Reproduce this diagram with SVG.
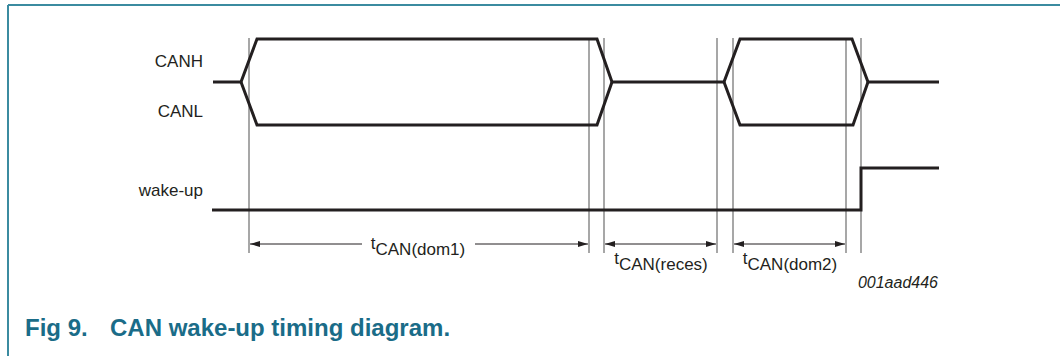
<svg xmlns="http://www.w3.org/2000/svg" width="1060" height="356" viewBox="0 0 1060 356">
<defs>
<style>
.frame{stroke:#3b8ba0;stroke-width:2;fill:none}
.sig{stroke:#231f20;stroke-width:3;fill:none;stroke-linejoin:miter}
.grid{stroke:#8a8a8a;stroke-width:1.5}
.dim{stroke:#231f20;stroke-width:1;fill:none}
.lbl{font-family:"Liberation Sans",Arial,sans-serif;font-size:17px;fill:#231f20}
.cap{font-family:"Liberation Sans",Arial,sans-serif;font-size:24px;font-weight:bold;fill:#1a6c88}
.code{font-family:"Liberation Sans",Arial,sans-serif;font-size:16px;font-style:italic;fill:#231f20}
</style>
<marker id="ah" viewBox="0 0 10 6" refX="10" refY="3" markerWidth="10" markerHeight="6" markerUnits="userSpaceOnUse" orient="auto-start-reverse">
<path d="M0,0 L10,3 L0,6 z" fill="#231f20"/>
</marker>
</defs>
<rect width="1060" height="356" fill="#ffffff"/>
<g id="frame">
<line class="frame" x1="8" y1="5" x2="1060" y2="5"/>
<line class="frame" x1="8" y1="5" x2="8" y2="356"/>
</g>
<g id="labels">
<text class="lbl" x="203" y="67" text-anchor="end">CANH</text>
<text class="lbl" x="203" y="117" text-anchor="end">CANL</text>
<text class="lbl" x="203" y="196" text-anchor="end">wake-up</text>
</g>
<g id="gridlines">
<line class="grid" x1="249" y1="38" x2="249" y2="253"/>
<line class="grid" x1="589" y1="38" x2="589" y2="253"/>
<line class="grid" x1="604" y1="38" x2="604" y2="253"/>
<line class="grid" x1="717" y1="38" x2="717" y2="253"/>
<line class="grid" x1="733" y1="38" x2="733" y2="253"/>
<line class="grid" x1="846" y1="38" x2="846" y2="253"/>
<line class="grid" x1="861" y1="38" x2="861" y2="253"/>
</g>
<g id="can-signal">
<path class="sig" d="M213,82 H241 L257,39 H597 L612,82 H724 L740,39 H852 L868,82 H939"/>
<path class="sig" d="M241,82 L257,125 H597 L612,82"/>
<path class="sig" d="M724,82 L740,125 H853 L868,82"/>
</g>
<g id="wakeup-signal">
<path class="sig" d="M212,210 H861 V168 H939"/>
</g>
<g id="connectors">
<line class="dim" x1="250" y1="244" x2="362" y2="244" marker-start="url(#ah)"/>
<line class="dim" x1="475" y1="244" x2="588" y2="244" marker-end="url(#ah)"/>
<line class="dim" x1="605" y1="244" x2="716" y2="244" marker-start="url(#ah)" marker-end="url(#ah)"/>
<line class="dim" x1="734" y1="244" x2="845" y2="244" marker-start="url(#ah)" marker-end="url(#ah)"/>
</g>
<g id="timing-labels">
<text class="lbl" x="418" y="249" text-anchor="middle" font-size="15">t<tspan dy="6">CAN(dom1)</tspan></text>
<text class="lbl" x="661" y="264" text-anchor="middle" font-size="15">t<tspan dy="6">CAN(reces)</tspan></text>
<text class="lbl" x="790" y="264" text-anchor="middle" font-size="15">t<tspan dy="6">CAN(dom2)</tspan></text>
</g>
<text class="code" x="938" y="288" text-anchor="end">001aad446</text>
<text class="cap" x="25" y="336">Fig 9.</text>
<text class="cap" x="110" y="336">CAN wake-up timing diagram.</text>
</svg>
